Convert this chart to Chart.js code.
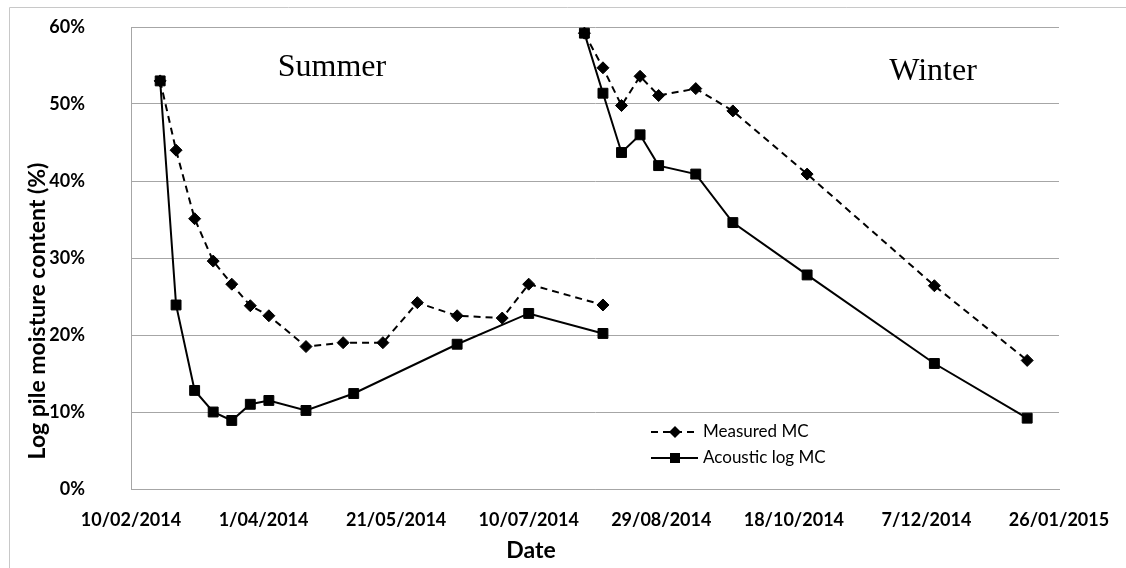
<!DOCTYPE html>
<html>
<head>
<meta charset="utf-8">
<script src="https://cdn.jsdelivr.net/npm/chart.js@4"></script>
<style>
  html, body { margin: 0; padding: 0; background: #fff; }
</style>
</head>
<body>
<canvas id="mcChart" width="1126" height="568"></canvas>
<script>
// Log pile moisture content, summer and winter drying trials

const tickLabels = ['10/02/2014', '1/04/2014', '21/05/2014', '10/07/2014', '29/08/2014', '18/10/2014', '7/12/2014', '26/01/2015'];

const summerMeasuredDates = ['2014-02-21', '2014-02-27', '2014-03-06', '2014-03-13', '2014-03-20', '2014-03-27', '2014-04-03', '2014-04-17', '2014-05-01', '2014-05-16', '2014-05-29', '2014-06-13', '2014-06-30', '2014-07-10', '2014-08-07'];
const summerMeasured = [53.0, 44.0, 35.1, 29.6, 26.6, 23.8, 22.5, 18.5, 19.0, 19.0, 24.2, 22.5, 22.2, 26.6, 23.9];

const summerAcousticDates = ['2014-02-21', '2014-02-27', '2014-03-06', '2014-03-13', '2014-03-20', '2014-03-27', '2014-04-03', '2014-04-17', '2014-05-05', '2014-06-13', '2014-07-10', '2014-08-07'];
const summerAcoustic = [53.0, 23.9, 12.8, 10.0, 8.9, 11.0, 11.5, 10.2, 12.4, 18.8, 22.8, 20.2];

const winterDates = ['2014-07-31', '2014-08-07', '2014-08-14', '2014-08-21', '2014-08-28', '2014-09-11', '2014-09-25', '2014-10-23', '2014-12-10', '2015-01-14'];
const winterMeasured = [59.2, 54.7, 49.8, 53.6, 51.1, 52.0, 49.1, 40.9, 26.4, 16.7];
const winterAcoustic = [59.2, 51.4, 43.7, 46.0, 42.0, 40.9, 34.6, 27.8, 16.3, 9.2];

const seriesNames = ['Measured MC', 'Acoustic log MC'];
const seasonNames = ['Summer', 'Winter'];

const startDay = Date.parse('2014-02-10');
function toDays(d) {
    return (Date.parse(d) - startDay) / 86400000;
}
function points(dates, values) {
    return dates.map((d, i) => ({ x: toDays(d), y: values[i] }));
}

const gridGrey = '#a6a6a6';
const tickFont = { family: 'Lato', size: 18, weight: 'bold' };

function measuredStyle(data) {
    return {
        label: seriesNames[0], data: data,
        borderColor: '#000', backgroundColor: '#000', borderWidth: 2, borderDash: [7, 5],
        pointStyle: 'rectRot', pointRadius: 6, pointBorderWidth: 1, tension: 0
    };
}
function acousticStyle(data) {
    return {
        label: seriesNames[1], data: data,
        borderColor: '#000', backgroundColor: '#000', borderWidth: 2,
        pointStyle: 'rect', pointRadius: 7, pointBorderWidth: 1, tension: 0
    };
}

// titles, season labels, legend and outer frame
const extras = {
    id: 'extras',
    beforeDraw(chart) {
        const ctx = chart.ctx;
        ctx.save();
        ctx.strokeStyle = '#c8c8c8';
        ctx.lineWidth = 1;
        ctx.beginPath();
        ctx.moveTo(9.5, 568);
        ctx.lineTo(9.5, 7.5);
        ctx.lineTo(1126, 7.5);
        ctx.stroke();
        ctx.restore();
    },
    afterDraw(chart) {
        const ctx = chart.ctx;
        ctx.save();
        ctx.fillStyle = '#000';
        ctx.textAlign = 'center';
        ctx.textBaseline = 'middle';

        ctx.font = '32px "Liberation Serif", "Times New Roman", serif';
        ctx.fillText(seasonNames[0], 332, 68);
        ctx.fillText(seasonNames[1], 933, 72);

        ctx.font = 'bold 23px Lato';
        ctx.fillText('Date', 531, 551);
        ctx.save();
        ctx.translate(38, 311);
        ctx.rotate(-Math.PI / 2);
        ctx.fillText('Log pile moisture content (%)', 0, 0);
        ctx.restore();

        // legend
        const rows = [432, 458];
        ctx.strokeStyle = '#000';
        ctx.lineWidth = 2;
        ctx.setLineDash([7, 5]);
        ctx.beginPath();
        ctx.moveTo(651, rows[0]);
        ctx.lineTo(698, rows[0]);
        ctx.stroke();
        ctx.setLineDash([]);
        ctx.beginPath();
        ctx.moveTo(651, rows[1]);
        ctx.lineTo(698, rows[1]);
        ctx.stroke();
        ctx.beginPath();
        ctx.moveTo(675, rows[0] - 6);
        ctx.lineTo(681, rows[0]);
        ctx.lineTo(675, rows[0] + 6);
        ctx.lineTo(669, rows[0]);
        ctx.closePath();
        ctx.fill();
        ctx.fillRect(670, rows[1] - 5, 10, 10);

        ctx.font = '17px Lato';
        ctx.textAlign = 'left';
        ctx.fillText(seriesNames[0], 703, rows[0]);
        ctx.fillText(seriesNames[1], 703, rows[1]);
        ctx.restore();
    }
};

new Chart(document.getElementById('mcChart'), {
    type: 'line',
    data: {
        datasets: [
            measuredStyle(points(summerMeasuredDates, summerMeasured)),
            acousticStyle(points(summerAcousticDates, summerAcoustic)),
            measuredStyle(points(winterDates, winterMeasured)),
            acousticStyle(points(winterDates, winterAcoustic))
        ]
    },
    options: {
        responsive: false,
        animation: false,
        layout: { padding: { left: 0, top: 27, right: 67, bottom: 0 } },
        plugins: {
            legend: { display: false },
            tooltip: { enabled: false }
        },
        scales: {
            x: {
                type: 'linear',
                min: 0,
                max: 350,
                grid: { display: false },
                border: { display: true, color: gridGrey, width: 1 },
                ticks: {
                    stepSize: 50,
                    padding: 12,
                    color: '#000',
                    font: tickFont,
                    maxRotation: 0,
                    callback: v => tickLabels[Math.round(v / 50)]
                },
                afterFit: s => { s.height = 79; }
            },
            y: {
                min: 0,
                max: 60,
                grid: { color: gridGrey, drawTicks: false },
                border: { display: true, color: gridGrey },
                ticks: {
                    stepSize: 10,
                    padding: 46,
                    color: '#000',
                    font: tickFont,
                    callback: v => v + '%'
                },
                afterFit: s => {
                    s.width = 131;
                    s.paddingTop = 11;
                    s.paddingBottom = 11;
                }
            }
        }
    },
    plugins: [extras]
});
</script>
</body>
</html>
